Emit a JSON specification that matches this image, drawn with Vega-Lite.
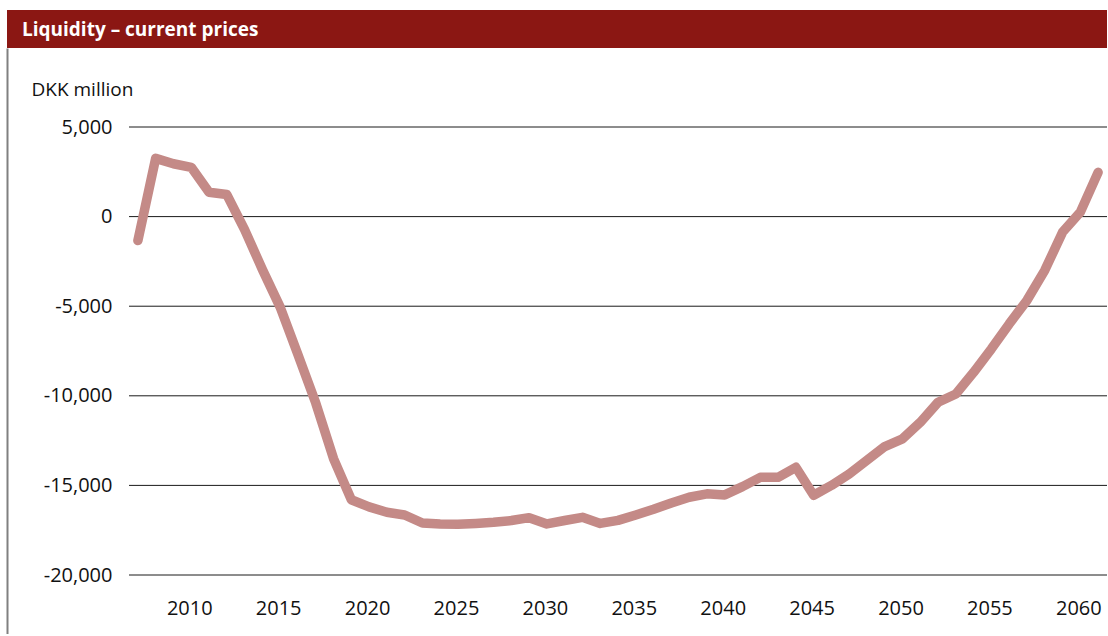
{
  "$schema": "https://vega.github.io/schema/vega-lite/v6.json",
  "background": "white",
  "padding": {"left": 7, "top": 10, "right": 0, "bottom": 0},
  "spacing": 0,
  "config": {"view": {"stroke": null}, "font": "Open Sans"},
  "vconcat": [
    {
      "width": 1100,
      "height": 38,
      "data": {"values": [{"label": "Liquidity – current prices"}]},
      "mark": {"type": "rect", "color": "#8B1713"},
      "encoding": {},
      "view": {"fill": "#8B1713", "stroke": null},
      "title": {
        "text": "Liquidity – current prices",
        "anchor": "start",
        "frame": "group",
        "orient": "top",
        "offset": -25,
        "baseline": "alphabetic",
        "dx": 15,
        "dy": 19.5,
        "color": "#ffffff",
        "fontSize": 19,
        "fontWeight": "bold",
        "font": "Open Sans"
      }
    },
    {
      "width": 1100,
      "height": 586,
      "data": {"values": [
        {"year": 2007, "value": -1340},
        {"year": 2008, "value": 3250},
        {"year": 2009, "value": 2950},
        {"year": 2010, "value": 2750},
        {"year": 2011, "value": 1360},
        {"year": 2012, "value": 1230},
        {"year": 2013, "value": -730},
        {"year": 2014, "value": -2950},
        {"year": 2015, "value": -5050},
        {"year": 2016, "value": -7700},
        {"year": 2017, "value": -10400},
        {"year": 2018, "value": -13500},
        {"year": 2019, "value": -15800},
        {"year": 2020, "value": -16200},
        {"year": 2021, "value": -16500},
        {"year": 2022, "value": -16650},
        {"year": 2023, "value": -17100},
        {"year": 2024, "value": -17150},
        {"year": 2025, "value": -17170},
        {"year": 2026, "value": -17120},
        {"year": 2027, "value": -17060},
        {"year": 2028, "value": -16960},
        {"year": 2029, "value": -16800},
        {"year": 2030, "value": -17150},
        {"year": 2031, "value": -16960},
        {"year": 2032, "value": -16780},
        {"year": 2033, "value": -17120},
        {"year": 2034, "value": -16950},
        {"year": 2035, "value": -16650},
        {"year": 2036, "value": -16330},
        {"year": 2037, "value": -15980},
        {"year": 2038, "value": -15660},
        {"year": 2039, "value": -15470},
        {"year": 2040, "value": -15530},
        {"year": 2041, "value": -15070},
        {"year": 2042, "value": -14550},
        {"year": 2043, "value": -14550},
        {"year": 2044, "value": -13990},
        {"year": 2045, "value": -15550},
        {"year": 2046, "value": -15000},
        {"year": 2047, "value": -14360},
        {"year": 2048, "value": -13600},
        {"year": 2049, "value": -12830},
        {"year": 2050, "value": -12400},
        {"year": 2051, "value": -11480},
        {"year": 2052, "value": -10360},
        {"year": 2053, "value": -9900},
        {"year": 2054, "value": -8690},
        {"year": 2055, "value": -7380},
        {"year": 2056, "value": -5990},
        {"year": 2057, "value": -4670},
        {"year": 2058, "value": -3000},
        {"year": 2059, "value": -870},
        {"year": 2060, "value": 250},
        {"year": 2061, "value": 2470}
      ]},
      "layer": [
        {
          "data": {"values": [{"g": 5000}, {"g": 0}, {"g": -5000}, {"g": -10000}, {"g": -15000}, {"g": -20000}]},
          "mark": {"type": "rule", "color": "#1a1a1a", "strokeWidth": 1},
          "encoding": {
            "y": {"field": "g", "type": "quantitative", "title": "DKK million"},
            "x": {"datum": 2006.5, "type": "quantitative", "title": null},
            "x2": {"datum": 2061.5}
          }
        },
        {
          "mark": {"type": "line", "color": "#C48A87", "strokeWidth": 9.5, "strokeCap": "round", "strokeJoin": "round"},
          "encoding": {
            "x": {
              "field": "year",
              "type": "quantitative",
              "title": null,
              "scale": {"domain": [1999.638, 2061.5], "nice": false, "zero": false},
              "axis": {
                "values": [2010, 2015, 2020, 2025, 2030, 2035, 2040, 2045, 2050, 2055, 2060],
                "format": "d",
                "grid": false,
                "ticks": false,
                "tickSize": 0,
                "domain": false,
                "labelPadding": -36,
                "labelOffset": -2,
                "labelFontSize": 20,
                "labelColor": "#111111",
                "labelFont": "Open Sans",
                "labelOverlap": false,
                "labelFlush": false
              }
            },
            "y": {
              "field": "value",
              "type": "quantitative",
              "title": "DKK million",
              "scale": {"domain": [-23292, 9408.5], "nice": false, "zero": false},
              "axis": {
                "values": [-20000, -15000, -10000, -5000, 0, 5000],
                "labelExpr": "replace(format(datum.value, ','), '\u2212', '-')",
                "grid": false,
                "ticks": false,
                "tickSize": 0,
                "domain": true,
                "domainColor": "#808080",
                "domainWidth": 2,
                "labelPadding": -105,
                "labelAlign": "right",
                "labelBaseline": "middle",
                "labelFontSize": 20,
                "labelColor": "#111111",
                "labelFont": "Open Sans",
                "labelOverlap": false,
                "title": "DKK million",
                "titleAngle": 0,
                "titleAlign": "left",
                "titleBaseline": "alphabetic",
                "titleX": 24,
                "titleY": 47,
                "titleFontSize": 19,
                "titleFontWeight": "normal",
                "titleColor": "#111111",
                "titleFont": "Open Sans"
              }
            }
          }
        }
      ]
    }
  ]
}
